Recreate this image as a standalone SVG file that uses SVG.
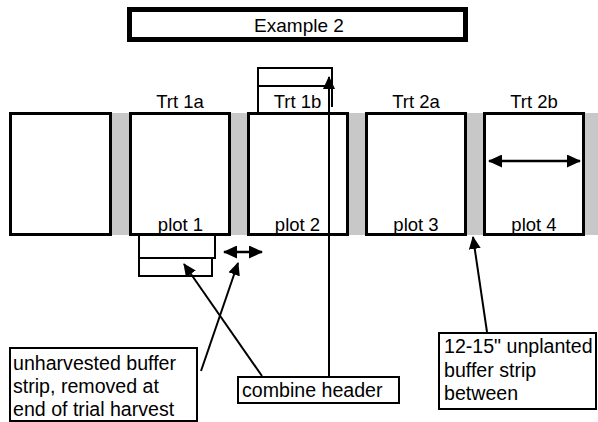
<svg xmlns="http://www.w3.org/2000/svg" width="598" height="422" viewBox="0 0 598 422">
<defs>
<style>
text{font-family:"Liberation Sans",Arial,sans-serif;fill:#000}
.lbl{font-size:18.5px;text-anchor:middle}
.note{font-size:19.6px}
.plot{fill:#fff;stroke:#000;stroke-width:3}
.strip{fill:#c8c8c8}
.box{fill:#fff;stroke:#000;stroke-width:2}
.ln{fill:none;stroke:#000;stroke-width:2}
.arr{fill:none;stroke:#000;stroke-width:2;marker-end:url(#ah)}
.dbl{fill:none;stroke:#000;stroke-width:2.5;marker-start:url(#ahb);marker-end:url(#ahb)}
</style>
<marker id="ah" markerUnits="userSpaceOnUse" viewBox="0 0 13 12" refX="12" refY="6" markerWidth="13" markerHeight="12" orient="auto">
<path d="M0,0 L13,6 L0,12 z" fill="#000"/>
</marker>
<marker id="ahb" markerUnits="userSpaceOnUse" viewBox="0 0 14 13" refX="13" refY="6.5" markerWidth="14" markerHeight="13" orient="auto-start-reverse">
<path d="M0,0 L14,6.5 L0,13 z" fill="#000"/>
</marker>
</defs>
<rect width="598" height="422" fill="#fff"/>

<g id="title">
<rect x="129.5" y="9.5" width="336" height="30" fill="#fff" stroke="#000" stroke-width="5"/>
<text x="299" y="32" class="lbl" style="font-size:19px">Example 2</text>
</g>

<g id="strips">
<rect class="strip" x="111" y="113" width="20" height="122"/>
<rect class="strip" x="229" y="113" width="20" height="122"/>
<rect class="strip" x="347" y="113" width="20" height="122"/>
<rect class="strip" x="465" y="113" width="20" height="122"/>
<rect class="strip" x="583" y="113" width="15" height="122"/>
</g>

<g id="plot0">
<rect class="plot" x="10.5" y="113.5" width="100" height="121"/>
</g>
<g id="plot1">
<rect class="plot" x="130.5" y="113.5" width="99" height="121"/>
<text class="lbl" x="180" y="108">Trt 1a</text>
<text class="lbl" x="180.5" y="231">plot 1</text>
</g>
<g id="plot2">
<rect class="plot" x="248.5" y="113.5" width="99" height="121"/>
<text class="lbl" x="297.5" y="108">Trt 1b</text>
<text class="lbl" x="297.5" y="231">plot 2</text>
</g>
<g id="plot3">
<rect class="plot" x="366.5" y="113.5" width="99" height="121"/>
<text class="lbl" x="416" y="108">Trt 2a</text>
<text class="lbl" x="416" y="231">plot 3</text>
</g>
<g id="plot4">
<rect class="plot" x="484.5" y="113.5" width="99" height="121"/>
<text class="lbl" x="534" y="108">Trt 2b</text>
<text class="lbl" x="534" y="231">plot 4</text>
</g>

<g id="header-top">
<path class="ln" d="M258,112 V68 H332 V107 M258,86 H332"/>
</g>
<g id="header-bottom">
<path class="ln" d="M139,235 V276 H212 V258 M139,258 H215 V235"/>
</g>

<g id="note-unharvested">
<rect class="box" x="10" y="348" width="187" height="73"/>
<text class="note" x="13" y="370">unharvested buffer</text>
<text class="note" x="13" y="393">strip, removed at</text>
<text class="note" x="13" y="416">end of trial harvest</text>
</g>
<g id="note-combine">
<rect class="box" x="238" y="377" width="161" height="26"/>
<text class="note" x="242" y="397">combine header</text>
</g>
<g id="note-buffer">
<rect class="box" x="439" y="333" width="157" height="76"/>
<text class="note" x="444" y="353">12-15" unplanted</text>
<text class="note" x="444" y="377">buffer strip</text>
<text class="note" x="444" y="400">between</text>
</g>

<g id="connectors">
<line class="arr" x1="201" y1="371" x2="238" y2="263"/>
<line class="arr" x1="262" y1="376" x2="184" y2="264"/>
<line class="arr" x1="487" y1="332" x2="473" y2="237"/>
<line class="arr" x1="329" y1="377" x2="329" y2="77"/>
<line class="dbl" x1="224" y1="252" x2="262" y2="252"/>
<line class="dbl" x1="489" y1="161" x2="580" y2="161"/>
</g>
</svg>
